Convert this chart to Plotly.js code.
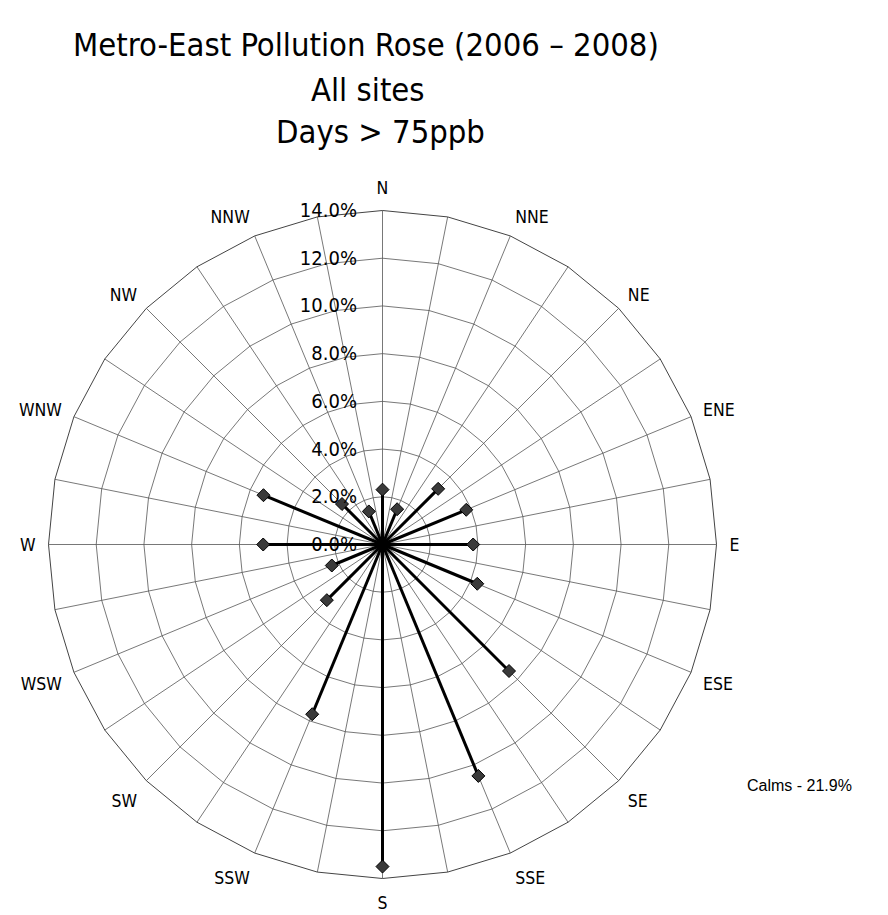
<!DOCTYPE html>
<html>
<head>
<meta charset="utf-8">
<script src="https://cdn.plot.ly/plotly-3.0.1.min.js"></script>
<style>html,body{margin:0;padding:0;background:#fff;}#chart{width:888px;height:915px;}</style>
</head>
<body>
<div id="chart"></div>
<script>
// 16 compass directions with data, 32 angular grid spokes
const directions = ["N","NNE","NE","ENE","E","ESE","SE","SSE","S","SSW","SW","WSW","W","WNW","NW","NNW"];
const frequencyPct = [2.3, 1.6, 3.3, 3.8, 3.8, 4.3, 7.5, 10.5, 13.5, 7.7, 3.3, 2.3, 5.0, 5.4, 2.4, 1.5];
const radialTicks = [0, 2, 4, 6, 8, 10, 12, 14];
const titleLines = ["Metro-East Pollution Rose (2006 \u2013 2008)", "All sites", "Days > 75ppb"];
const calmsLabel = "Calms - 21.9%";

// build 32 angular categories (named directions plus in-between spokes)
const categories = [];
const catText = [];
directions.forEach(function (d) {
  categories.push(d); catText.push(d);
  categories.push(d + "+"); catText.push("");
});

const spokeR = [], spokeT = [];
directions.forEach(function (d, i) {
  spokeR.push(0, frequencyPct[i], null);
  spokeT.push(d, d, null);
});

const font = "DejaVu Sans Condensed, DejaVu Sans, sans-serif";

const traces = [
  {
    type: "scatterpolar", mode: "lines",
    r: spokeR, theta: spokeT, connectgaps: false,
    line: {color: "#000", width: 3},
    hoverinfo: "skip", showlegend: false
  },
  {
    type: "scatterpolar", mode: "markers",
    r: frequencyPct, theta: directions,
    marker: {symbol: "diamond", size: 10, color: "#3a3a3a", line: {color: "#000", width: 1}},
    showlegend: false
  }
];

const titleY = [45, 90, 132];
const titleX = [366, 368, 380];
const annotations = titleLines.map(function (t, i) {
  return {
    text: t, xref: "paper", yref: "paper",
    x: titleX[i] / 888, y: 1 - titleY[i] / 915,
    xanchor: "center", yanchor: "middle", showarrow: false,
    font: {family: font, size: 32.5, color: "#000"}
  };
});
annotations.push({
  text: calmsLabel, xref: "paper", yref: "paper",
  x: 745 / 888, y: 1 - 785 / 915, xanchor: "left", yanchor: "middle",
  showarrow: false,
  font: {family: "Liberation Sans, Arial, sans-serif", size: 16, color: "#000"}
});

const layout = {
  width: 888, height: 915,
  margin: {l: 0, r: 0, t: 0, b: 0},
  paper_bgcolor: "#fff",
  showlegend: false,
  polar: {
    domain: {x: [48.5 / 888, 716.5 / 888], y: [36.5 / 915, 704.5 / 915]},
    bgcolor: "#fff",
    gridshape: "linear",
    angularaxis: {
      type: "category",
      categoryarray: categories,
      direction: "clockwise",
      rotation: 90,
      tickmode: "array",
      tickvals: categories,
      ticktext: catText,
      ticks: "outside", ticklen: 9, tickcolor: "rgba(0,0,0,0)",
      showline: true, linecolor: "#444", linewidth: 1,
      gridcolor: "#555", gridwidth: 0.8,
      tickfont: {family: font, size: 17.5, color: "#000"}
    },
    radialaxis: {
      range: [0, 14],
      tickmode: "array",
      tickvals: radialTicks,
      ticktext: radialTicks.map(function (v) { return v.toFixed(1) + "%"; }),
      angle: 90,
      tickangle: 90,
      side: "counterclockwise",
      showline: false,
      ticks: "outside", ticklen: 18, tickcolor: "rgba(0,0,0,0)",
      gridcolor: "#555", gridwidth: 0.8,
      tickfont: {family: font, size: 20, color: "#000"}
    }
  },
  annotations: annotations
};

Plotly.newPlot("chart", traces, layout, {displayModeBar: false, staticPlot: true});
</script>
</body>
</html>
